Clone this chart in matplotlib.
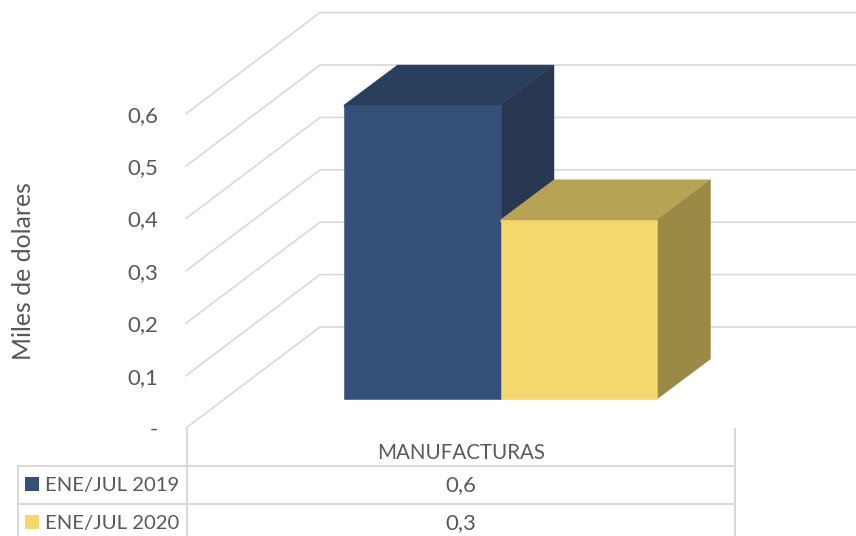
import matplotlib
matplotlib.use("Agg")
import matplotlib.pyplot as plt
from matplotlib.patches import Polygon, Rectangle

plt.rcParams['font.family'] = ['Lato', 'DejaVu Sans']

# data
category = "MANUFACTURAS"
series = ["ENE/JUL 2019", "ENE/JUL 2020"]
values = [0.561, 0.342]
table_labels = ["0,6", "0,3"]
ticks = [0, 0.1, 0.2, 0.3, 0.4, 0.5, 0.6]
tick_labels = ["-", "0,1", "0,2", "0,3", "0,4", "0,5", "0,6"]

front_colors = ["#355078", "#f4d76d"]
top_colors = ["#2a3e5e", "#b7a356"]
side_colors = ["#26374f", "#9b8a45"]
grid_color = "#d9d9d9"
text_color = "#595959"

W, H = 856, 536
Y0 = 428       # pixel row of value 0 on the front edge
SCALE = 524    # pixels per unit of value


def yv(py):
    # pixel row to value
    return (Y0 - py) / SCALE


fig = plt.figure(figsize=(W / 100, H / 100), dpi=100)
ax = fig.add_axes([186 / W, (H - Y0) / H, (W - 186) / W, Y0 / H])
ax.set_xlim(186, W)
ax.set_ylim(0, Y0 / SCALE)
for s in ax.spines.values():
    s.set_visible(False)
ax.set_xticks([])
ax.set_yticks(ticks)
ax.set_yticklabels(tick_labels, fontsize=16, color=text_color)
ax.tick_params(axis='y', length=0, pad=20)

# walls: grid runs back from the front edge, then across the back wall
wall_dx, wall_dy = 134, 101 / SCALE
for t in ticks:
    ax.plot([186, 186 + wall_dx, W], [t, t + wall_dy, t + wall_dy],
            color=grid_color, lw=1.2, clip_on=False, zorder=1)

# 3D bars
bar_left = 344
bar_w = 156.5
floor = yv(399)
dx, dy = 53.5, 40 / SCALE
tuck = 2 / SCALE  # top face runs a little under the front face, hides the seam
for i, v in enumerate(values):
    x0 = bar_left + i * bar_w
    x1 = x0 + bar_w
    top = floor + v
    ax.add_patch(Polygon([(x0, top - tuck), (x1, top - tuck), (x1, top), (x1 + dx, top + dy),
                          (x0 + dx, top + dy), (x0, top)],
                         facecolor=top_colors[i], edgecolor=top_colors[i], lw=0.3, zorder=3 + i))
    ax.add_patch(Polygon([(x1, floor), (x1, top), (x1 + dx, top + dy), (x1 + dx, floor + dy)],
                         facecolor=side_colors[i], edgecolor=side_colors[i], lw=0.3, zorder=3 + i))
    ax.bar(x0, v, width=bar_w, bottom=floor, align='edge', color=front_colors[i],
           edgecolor=front_colors[i], lw=0.4, zorder=3.5 + i)

# data table under the axes
tkw = dict(color=grid_color, lw=1.5, clip_on=False, zorder=1)
ax.plot([186.5, 186.5], [yv(429), yv(H)], **tkw)
ax.plot([734.5, 734.5], [yv(429), yv(H)], **tkw)
ax.plot([17.5, 17.5], [yv(466), yv(H)], **tkw)
ax.plot([17.5, 734.5], [yv(466), yv(466)], **tkw)
ax.plot([17.5, 734.5], [yv(504), yv(504)], **tkw)

center = 461
ax.text(center, yv(453), category, fontsize=14.8, color=text_color, ha='center', va='center')
rows = [485, 523]
for i, name in enumerate(series):
    ax.add_patch(Rectangle((25, yv(rows[i] + 6)), 14, 14 / SCALE, color=front_colors[i],
                           lw=0, clip_on=False))
    ax.text(45, yv(rows[i]), name, fontsize=14.6, color=text_color, ha='left', va='center')
    ax.text(center, yv(rows[i]), table_labels[i], fontsize=16, color=text_color,
            ha='center', va='center')

fig.text(24 / W, 1 - 271 / H, "Miles de dolares", rotation=90, fontsize=17.8,
         color=text_color, ha='center', va='center')

fig.savefig("out.png", dpi=100)
plt.close(fig)
